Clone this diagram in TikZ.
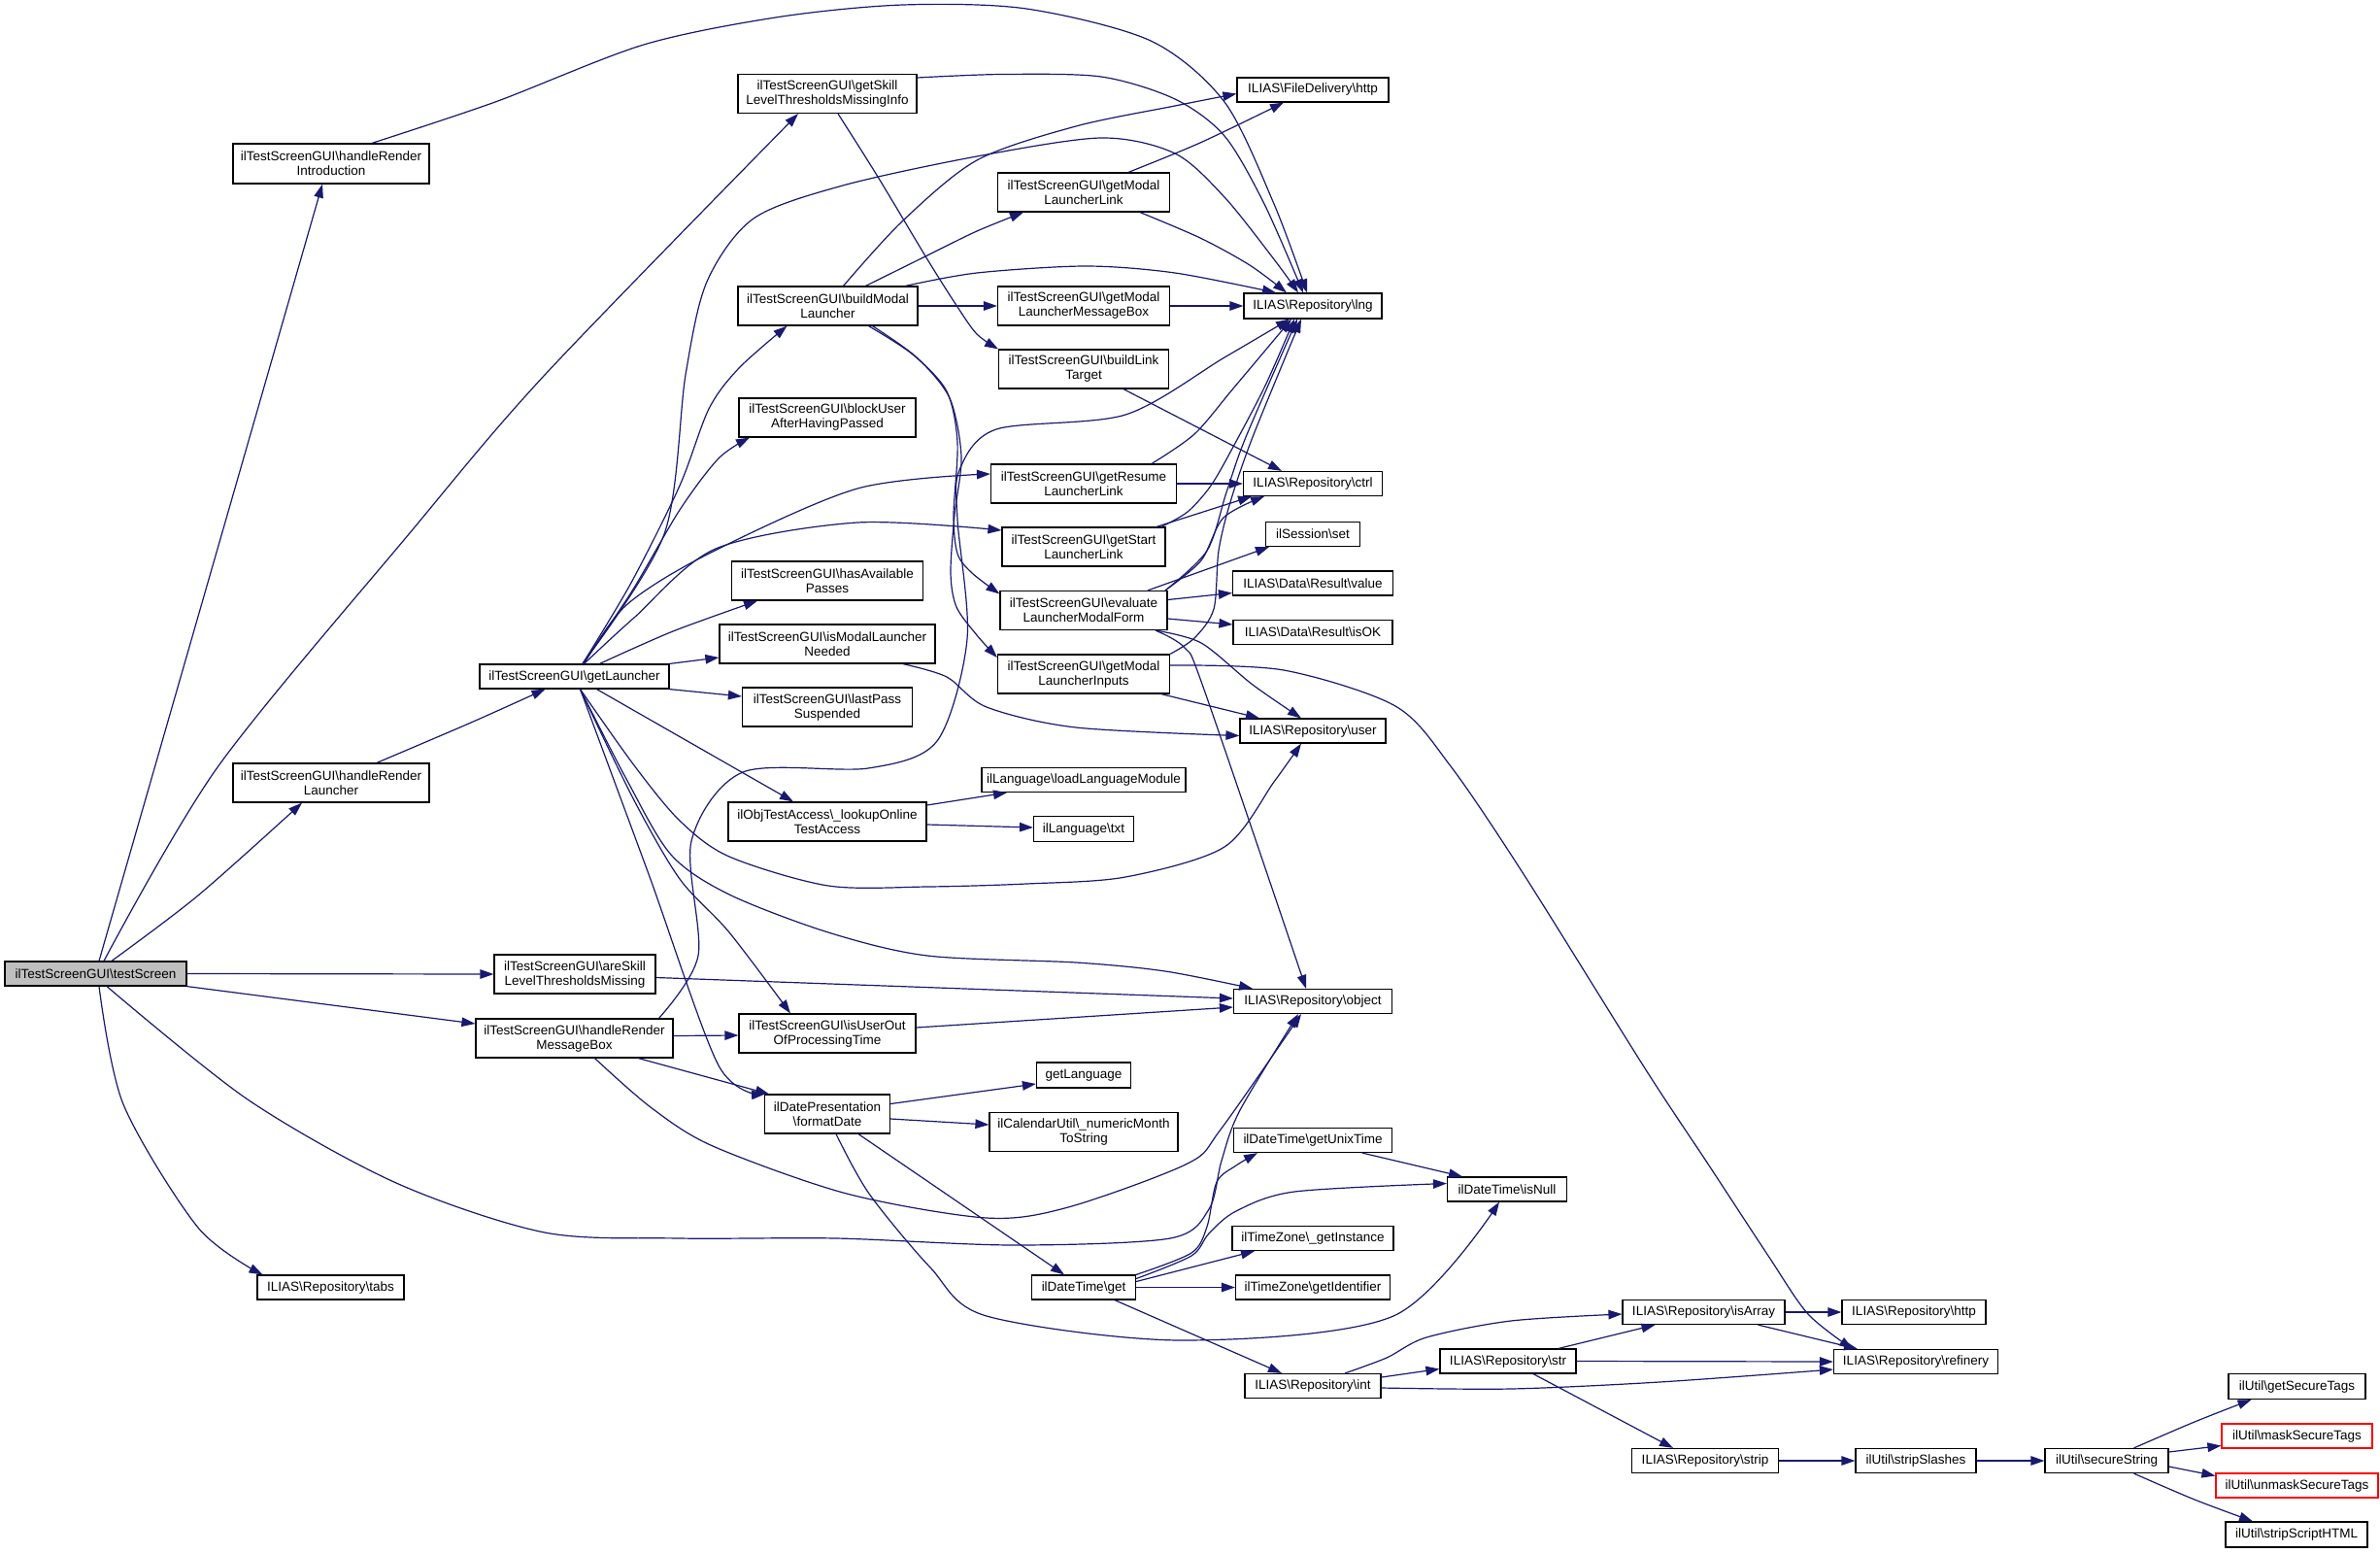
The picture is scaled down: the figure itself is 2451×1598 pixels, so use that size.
\documentclass[tikz,border=0pt]{standalone}
\usepackage{fontspec}
\setmainfont{Liberation Sans}
\usetikzlibrary{arrows.meta}
\definecolor{navy}{HTML}{191970}
\definecolor{boxgray}{HTML}{BFBFBF}
\newcommand{\bk}{\textbackslash}
\tikzset{
  box/.style 2 args={draw=black, line width=1.2pt, fill=white, inner sep=0pt, align=center,
    minimum width=#1, minimum height=#2, font=\fontsize{13.5}{15}\selectfont},
  redbox/.style={draw=red},
  edge/.style={draw=navy, line width=1.2pt, -{Triangle[length=14pt,width=9.5pt]}}
}
\begin{document}
\begin{tikzpicture}[x=1pt,y=-1pt]
\fill[white] (0,0) rectangle (2451,1598);
\useasboundingbox (0,0) rectangle (2451,1598);
% ---------------- nodes ----------------
\node[box={187pt}{25pt}, fill=boxgray] (ts) at (98.5,1002.5) {ilTestScreenGUI\bk testScreen};
\node[box={202pt}{41pt}] (hri) at (341,168.5) {ilTestScreenGUI\bk handleRender\\Introduction};
\node[box={202pt}{40pt}] (hrl) at (341,806) {ilTestScreenGUI\bk handleRender\\Launcher};
\node[box={195pt}{25pt}] (gl) at (591.5,696.5) {ilTestScreenGUI\bk getLauncher};
\node[box={166pt}{40pt}] (asl) at (592,1003) {ilTestScreenGUI\bk areSkill\\LevelThresholdsMissing};
\node[box={203pt}{40pt}] (hrm) at (591.5,1069) {ilTestScreenGUI\bk handleRender\\MessageBox};
\node[box={151pt}{25pt}] (tabs) at (340.5,1325.5) {ILIAS\bk Repository\bk tabs};
\node[box={184pt}{40pt}] (gsi) at (852,96.5) {ilTestScreenGUI\bk getSkill\\LevelThresholdsMissingInfo};
\node[box={156pt}{25pt}] (fdh) at (1352,92.5) {ILIAS\bk FileDelivery\bk http};
\node[box={177pt}{40pt}] (gmll) at (1116,198) {ilTestScreenGUI\bk getModal\\LauncherLink};
\node[box={185pt}{40pt}] (bml) at (852.5,315) {ilTestScreenGUI\bk buildModal\\Launcher};
\node[box={177pt}{40pt}] (gmlm) at (1116,315) {ilTestScreenGUI\bk getModal\\LauncherMessageBox};
\node[box={142pt}{26pt}] (lng) at (1352,315) {ILIAS\bk Repository\bk lng};
\node[box={175pt}{40pt}] (blt) at (1116,380) {ilTestScreenGUI\bk buildLink\\Target};
\node[box={182pt}{40pt}] (bu) at (852,430) {ilTestScreenGUI\bk blockUser\\AfterHavingPassed};
\node[box={191pt}{40pt}] (grl) at (1116,498) {ilTestScreenGUI\bk getResume\\LauncherLink};
\node[box={143pt}{25pt}] (ctrl) at (1352,498) {ILIAS\bk Repository\bk ctrl};
\node[box={168pt}{40pt}] (gsl) at (1116,563) {ilTestScreenGUI\bk getStart\\LauncherLink};
\node[box={97pt}{25pt}] (sset) at (1352,550) {ilSession\bk set};
\node[box={197pt}{40pt}] (hap) at (852,598) {ilTestScreenGUI\bk hasAvailable\\Passes};
\node[box={165pt}{25pt}] (val) at (1352,600.5) {ILIAS\bk Data\bk Result\bk value};
\node[box={172pt}{40pt}] (elf) at (1116,628.5) {ilTestScreenGUI\bk evaluate\\LauncherModalForm};
\node[box={164pt}{25pt}] (isok) at (1352,651) {ILIAS\bk Data\bk Result\bk isOK};
\node[box={222pt}{40pt}] (imln) at (852,663) {ilTestScreenGUI\bk isModalLauncher\\Needed};
\node[box={177pt}{40pt}] (gmli) at (1116,694) {ilTestScreenGUI\bk getModal\\LauncherInputs};
\node[box={175pt}{40pt}] (lps) at (852,728) {ilTestScreenGUI\bk lastPass\\Suspended};
\node[box={150pt}{25pt}] (user) at (1352,752.5) {ILIAS\bk Repository\bk user};
\node[box={210pt}{25pt}] (llm) at (1116,803) {ilLanguage\bk loadLanguageModule};
\node[box={204pt}{40pt}] (lota) at (852,846) {ilObjTestAccess\bk\_lookupOnline\\TestAccess};
\node[box={103pt}{26pt}] (txt) at (1116,853.5) {ilLanguage\bk txt};
\node[box={163pt}{25pt}] (obj) at (1352,1031) {ILIAS\bk Repository\bk object};
\node[box={182pt}{40pt}] (iuo) at (852,1064) {ilTestScreenGUI\bk isUserOut\\OfProcessingTime};
\node[box={97pt}{26pt}] (glang) at (1116,1107) {getLanguage};
\node[box={129pt}{40pt}] (fd) at (852,1147) {ilDatePresentation\\\bk formatDate};
\node[box={194pt}{40pt}] (nms) at (1116,1165.5) {ilCalendarUtil\bk\_numericMonth\\ToString};
\node[box={163pt}{25pt}] (gut) at (1352,1174) {ilDateTime\bk getUnixTime};
\node[box={123pt}{25pt}] (isnull) at (1552,1224.5) {ilDateTime\bk isNull};
\node[box={166pt}{25pt}] (gi) at (1352,1275) {ilTimeZone\bk\_getInstance};
\node[box={159pt}{25pt}] (gid) at (1352,1325.5) {ilTimeZone\bk getIdentifier};
\node[box={107pt}{25pt}] (dtg) at (1116,1325.5) {ilDateTime\bk get};
\node[box={167pt}{25pt}] (isarr) at (1754.5,1351) {ILIAS\bk Repository\bk isArray};
\node[box={148pt}{25pt}] (rhttp) at (1971,1351) {ILIAS\bk Repository\bk http};
\node[box={140pt}{25pt}] (str) at (1553,1401.5) {ILIAS\bk Repository\bk str};
\node[box={169pt}{25pt}] (ref) at (1973,1402) {ILIAS\bk Repository\bk refinery};
\node[box={140pt}{25pt}] (int) at (1352,1427) {ILIAS\bk Repository\bk int};
\node[box={151pt}{25pt}] (strip) at (1756,1504) {ILIAS\bk Repository\bk strip};
\node[box={124pt}{25pt}] (ss) at (1973,1504) {ilUtil\bk stripSlashes};
\node[box={127pt}{25pt}] (sec) at (2169.5,1504) {ilUtil\bk secureString};
\node[box={141pt}{26pt}] (gst) at (2365.5,1427.5) {ilUtil\bk getSecureTags};
\node[box={155pt}{25pt}, redbox] (mst) at (2365.5,1478.5) {ilUtil\bk maskSecureTags};
\node[box={167pt}{25pt}, redbox] (ust) at (2365.5,1529.5) {ilUtil\bk unmaskSecureTags};
\node[box={146pt}{26pt}] (ssh) at (2365,1580) {ilUtil\bk stripScriptHTML};
% ---------------- edges ----------------
% testScreen
\draw[edge] ([xshift=3.5pt]ts.north) -- ([xshift=-9pt]hri.south);
\draw[edge] plot[smooth] coordinates {([xshift=8.5pt]ts.north) (224,790) (421,550) (561,386) ([xshift=-30pt]gsi.south)};
\draw[edge] plot[smooth] coordinates {([xshift=16.5pt]ts.north) (204,922) ([xshift=-30pt]hrl.south)};
\draw[edge] (ts.east) -- (asl.west);
\draw[edge] (ts.south east) -- ([yshift=15pt]hrm.west);
\draw[edge] plot[smooth] coordinates {([xshift=3.5pt]ts.south) (127,1137) (204,1264) ([xshift=-70pt]tabs.north)};
\draw[edge] plot[smooth] coordinates {([xshift=11.5pt]ts.south) (255,1132) (408,1218) (561,1269) (700,1275) (861,1275) (1044,1282) (1205,1275) (1245,1245) (1258,1195) (1277,1143) ([xshift=-15pt]obj.south)};
% handleRenderIntroduction
\draw[edge] plot[smooth] coordinates {([xshift=42pt]hri.north) (510,105) (663,46) (802,17.5) (930,5) (1057,9) (1185,42) (1261,105) (1312,210) ([xshift=-6pt]lng.north)};
% getSkillInfo
\draw[edge] plot[smooth] coordinates {([yshift=16.5pt]gsi.east) (1032,76.5) (1134,79) (1210,102) (1261,140) (1302,210) ([xshift=-10pt]lng.north)};
\draw[edge] plot[smooth] coordinates {([xshift=11pt]gsi.south) (904,182) (955,267) (986,316) (1006,344) ([xshift=-88pt]blt.north)};
% handleRenderLauncher
\draw[edge] plot[smooth] coordinates {([xshift=47pt]hrl.north) (485,744) ([xshift=-30pt]gl.south)};
% getLauncher
\draw[edge] plot[smooth] coordinates {([xshift=8.5pt]gl.north) (650,600) (700,500) (730,421) (761,379) ([xshift=-42pt]bml.south)};
\draw[edge] plot[smooth] coordinates {([xshift=8.5pt]gl.north) (650,610) (700,525) (740,472) ([xshift=-80pt]bu.south)};
\draw[edge] plot[smooth] coordinates {([xshift=8.5pt]gl.north) (684,550) (706,386) (728,290) (776,225) (868,191) (1006,161) (1134,142) (1210,158) (1261,203) (1312,267) ([xshift=-15pt]lng.north)};
\draw[edge] plot[smooth] coordinates {([xshift=10pt]gl.north) (645,623) (730,570) (883,503) ([yshift=10pt]grl.west)};
\draw[edge] plot[smooth] coordinates {([xshift=10pt]gl.north) (653,636) (737,565) (883,538) ([yshift=17pt]gsl.west)};
\draw[edge] plot[smooth] coordinates {([xshift=26pt]gl.north) (693,650) ([xshift=-72pt]hap.south)};
\draw[edge] (gl.north east) -- ([yshift=-14pt]imln.west);
\draw[edge] (gl.south east) -- ([yshift=11pt]lps.west);
\draw[edge] ([xshift=23pt]gl.south) -- ([xshift=-35pt]lota.north);
\draw[edge] plot[smooth] coordinates {([xshift=6pt]gl.south) (653,788) (700,845) (751,882) (853,912) (955,913) (1057,910) (1159,903) (1261,872) (1312,805) ([xshift=-12pt]user.south)};
\draw[edge] plot[smooth] coordinates {([xshift=6pt]gl.south) (645,802) (691,880) (751,921) (853,960) (955,984) (1108,991) (1200,1000) ([xshift=-62pt]obj.north)};
\draw[edge] plot[smooth] coordinates {([xshift=6pt]gl.south) (653,824) (700,905) (751,960) ([xshift=-38pt]iuo.north)};
\draw[edge] plot[smooth] coordinates {([xshift=6pt]gl.south) (668,900) (740,1097) ([xshift=-64pt]fd.north)};
% handleRenderMessageBox
\draw[edge] ([yshift=2.5pt]hrm.east) -- ([yshift=-2pt]iuo.west);
\draw[edge] ([xshift=66pt]hrm.south) -- ([xshift=-60pt]fd.north);
\draw[edge] plot[smooth] coordinates {([xshift=87pt]hrm.north) (719,984) (712,866) (765,795) (894,791) (965,763) (996,658) (986,535) (988,484) (1026,442) (1159,427) (1261,368) ([xshift=-24pt]lng.south)};
\draw[edge] plot[smooth] coordinates {([xshift=21pt]hrm.south) (670,1140) (734,1180) (872,1229) (1016,1254) (1100,1243) (1223,1198) (1257,1163) ([xshift=-12pt]obj.south)};
% areSkill, isUserOut
\draw[edge] ([yshift=-3.5pt]asl.east) -- ([yshift=3pt]obj.west);
\draw[edge] ([yshift=6pt]iuo.east) -- ([yshift=-6pt]obj.west);
% buildModalLauncher
\draw[edge] (bml.east) -- (gmlm.west);
\draw[edge] plot[smooth] coordinates {([xshift=16pt]bml.north) (929,228) (1006,165) (1108,130) (1210,109) ([yshift=-4pt]fdh.west)};
\draw[edge] plot[smooth] coordinates {([xshift=39pt]bml.north) (955,263) (1006,238) ([xshift=-62pt]gmll.south)};
\draw[edge] plot[smooth] coordinates {([xshift=80pt]bml.north) (1006,281) (1118,274) (1210,281) ([xshift=-38pt]lng.north)};
\draw[edge] plot[smooth] coordinates {([xshift=42pt]bml.south) (940,365) (975,403) (986,456) (982,530) (986,570) (1001,590) ([yshift=17pt]elf.west)};
\draw[edge] plot[smooth] coordinates {([xshift=46pt]bml.south) (944,368) (978,410) (990,470) (983,530) (979,590) (985,625) (1006,654) ([yshift=17pt]gmli.west)};
% getModalLauncherLink, MessageBox
\draw[edge] plot[smooth] coordinates {([xshift=46pt]gmll.north) (1236,147) ([xshift=-30pt]fdh.south)};
\draw[edge] plot[smooth] coordinates {([xshift=58pt]gmll.south) (1236,245) (1287,273) ([xshift=-27pt]lng.north)};
\draw[edge] (gmlm.east) -- (lng.west);
% buildLinkTarget
\draw[edge] ([xshift=41pt]blt.south) -- ([xshift=-32pt]ctrl.north);
% getResume
\draw[edge] (grl.east) -- (ctrl.west);
\draw[edge] plot[smooth] coordinates {([xshift=70pt]grl.north) (1230,447) (1270,400) ([xshift=-22pt]lng.south)};
% getStart
\draw[edge] ([xshift=75pt]gsl.north) -- ([xshift=-63pt]ctrl.south);
\draw[edge] plot[smooth] coordinates {([xshift=80pt]gsl.north) (1223,527) (1247,500) (1270,460) (1303,397) ([xshift=-19pt]lng.south)};
% evaluate
\draw[edge] ([xshift=66pt]elf.north) -- ([xshift=-45pt]sset.south);
\draw[edge] plot[smooth] coordinates {([xshift=84pt]elf.north) (1237,577) (1260,533) ([xshift=-50pt]ctrl.south)};
\draw[edge] plot[smooth] coordinates {([xshift=84pt]elf.north) (1243,567) (1263,507) (1283,450) ([xshift=-16pt]lng.south)};
\draw[edge] ([yshift=11pt]elf.east) -- ([yshift=-10pt]val.west);
\draw[edge] ([yshift=-8.5pt]elf.east) -- ([yshift=8pt]isok.west);
\draw[edge] plot[smooth] coordinates {([xshift=74pt]elf.south) (1237,662) (1290,705) ([xshift=-12pt]user.north)};
\draw[edge] plot[smooth] coordinates {([xshift=74pt]elf.south) (1220,667) (1240,710) ([xshift=-7pt]obj.north)};
% getModalLauncherInputs
\draw[edge] plot[smooth] coordinates {(gmli.north east) (1230,657) (1250,627) (1255,567) (1267,517) (1290,450) ([xshift=-12pt]lng.south)};
\draw[edge] plot[smooth] coordinates {([yshift=9pt]gmli.east) (1322,690) (1437,727) (1494,789) (1569,900) (1694,1100) (1760,1200) (1821,1293) (1862,1353) ([xshift=-65pt]ref.north)};
\draw[edge] ([xshift=80pt]gmli.south) -- ([xshift=-55pt]user.north);
% isModalLauncherNeeded
\draw[edge] plot[smooth] coordinates {([xshift=78pt]imln.south) (975,697) (1016,728) (1108,749) ([yshift=-5pt]user.west)};
% lookupOnlineTestAccess
\draw[edge] ([yshift=17pt]lota.east) -- ([xshift=-79pt]llm.south);
\draw[edge] ([yshift=-3pt]lota.east) -- ([yshift=1.5pt]txt.west);
% formatDate
\draw[edge] ([yshift=10.5pt]fd.east) -- ([yshift=-9pt]glang.west);
\draw[edge] ([yshift=-5pt]fd.east) -- ([yshift=7.5pt]nms.west);
\draw[edge] ([xshift=32pt]fd.south) -- ([xshift=-20pt]dtg.north);
\draw[edge] plot[smooth] coordinates {([xshift=9pt]fd.south) (895,1229) (958,1305) (1016,1355) (1217,1380) (1435,1355) ([xshift=-8pt]isnull.south)};
% ilDateTime get
\draw[edge] plot[smooth] coordinates {(dtg.north east) (1227,1290) (1243,1263) (1253,1217) (1273,1200) ([xshift=-57pt]gut.south)};
\draw[edge] plot[smooth] coordinates {([yshift=9pt]dtg.east) (1227,1293) (1245,1270) (1273,1247) (1333,1227) ([yshift=6pt]isnull.west)};
\draw[edge] ([yshift=6pt]dtg.east) -- ([xshift=-60pt]gi.south);
\draw[edge] (dtg.east) -- (gid.west);
\draw[edge] ([xshift=32pt]dtg.south) -- ([xshift=-32pt]int.north);
\draw[edge] ([xshift=51pt]gut.south) -- ([xshift=-46pt]isnull.north);
% int, str, isArray
\draw[edge] plot[smooth] coordinates {([xshift=33pt]int.north) (1428,1398) (1469,1377) (1556,1360) ([yshift=-2pt]isarr.west)};
\draw[edge] ([yshift=9pt]int.east) -- ([yshift=-8pt]str.west);
\draw[edge] plot[smooth] coordinates {([yshift=-2pt]int.east) (1556,1430) (1709,1423) ([yshift=-8pt]ref.west)};
\draw[edge] ([xshift=52pt]str.north) -- ([xshift=-50pt]isarr.south);
\draw[edge] (str.east) -- (ref.west);
\draw[edge] ([xshift=26pt]str.south) -- ([xshift=-33pt]strip.north);
\draw[edge] (isarr.east) -- (rhttp.west);
\draw[edge] ([xshift=56pt]isarr.south) -- ([xshift=-60pt]ref.north);
\draw[edge] (strip.east) -- (ss.west);
\draw[edge] (ss.east) -- (sec.west);
% secureString
\draw[edge] plot[smooth] coordinates {([xshift=28pt]sec.north) (2260,1464) ([xshift=-47pt]gst.south)};
\draw[edge] ([yshift=9pt]sec.east) -- ([yshift=-10pt]mst.west);
\draw[edge] ([yshift=-6pt]sec.east) -- ([yshift=10pt]ust.west);
\draw[edge] plot[smooth] coordinates {([xshift=28pt]sec.south) (2260,1544) ([xshift=-45pt]ssh.north)};
\end{tikzpicture}
\end{document}
